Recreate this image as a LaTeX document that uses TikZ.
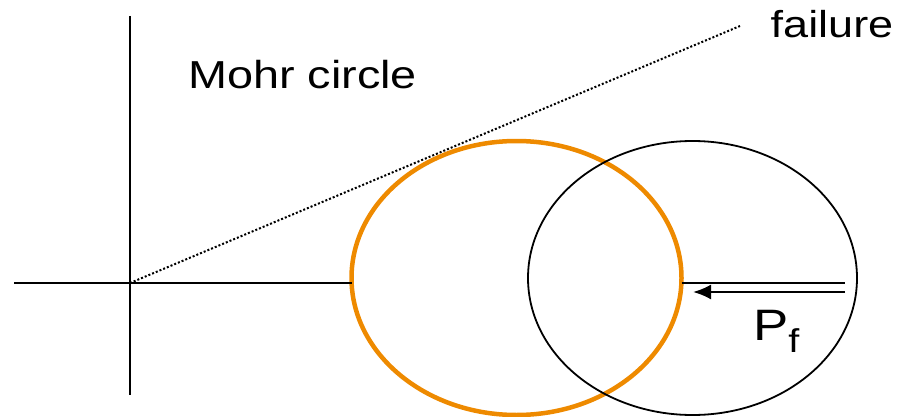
\documentclass[tikz,border=0pt]{standalone}
\usepackage{fontspec}
\setmainfont{Liberation Sans}
\usetikzlibrary{arrows.meta, positioning, shapes.geometric}
\definecolor{MohrOrange}{HTML}{EE8A00}
\newcommand{\wide}[2]{\scalebox{1.2}[1]{\fontsize{#1}{#1}\selectfont #2}}

\begin{document}
\begin{tikzpicture}[
    x=1pt, y=1pt,
    label/.style={inner sep=0pt, anchor=base},
    circ/.style={ellipse, draw=black, minimum width=329pt, minimum height=274pt, inner sep=0pt, outer sep=0pt, line width=1.8pt},
    axis/.style={draw=black, line width=2.2pt},
    arrow/.style={-{Latex[length=18pt, width=15pt]}, draw=black, line width=2.2pt}
]
\useasboundingbox (0,0) rectangle (899,416);

% Axes
\coordinate (vTop) at (130,400);
\coordinate (vBot) at (130,21);
\coordinate (origin) at (130,133);
\coordinate (hLeft) at (14,133);
\draw[axis] (vTop) -- (vBot);

% Circles
\node[circ, draw=MohrOrange, line width=4.5pt, minimum width=330pt] (orange) at (516.5,138) {};
\node[circ] (shifted) at (692.5,138) {};

\draw[axis] (hLeft) -- (hLeft -| orange.west);

% Failure envelope
\coordinate (envEnd) at (740,390);
\draw[black, line width=2pt, dotted] (origin) -- (envEnd);

% Pore pressure shift
\coordinate (pfRight) at (845,133);
\coordinate (pfTail) at (845,124);
\coordinate (pfTip) at (693,124);
\draw[axis] (pfRight -| orange.east) -- (pfRight);
\draw[arrow] (pfTail) -- (pfTip);

% Labels
\node[label] (mohr) at (302.5,327) {\wide{39}{Mohr circle}};
\node[label] (fail) at (832,378) {\wide{37.5}{failure}};
\node[label, anchor=base west] (pf) at (753,76) {\wide{44}{P}\raisebox{-12pt}{\wide{33}{f}}};
\end{tikzpicture}
\end{document}
